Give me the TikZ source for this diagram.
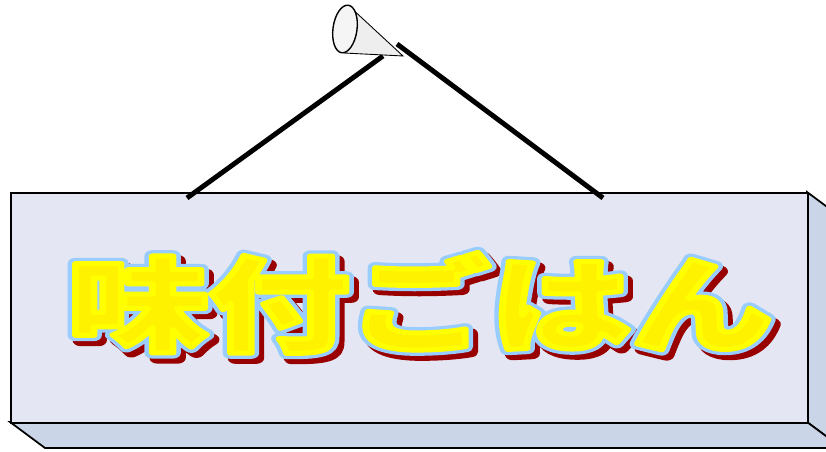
\documentclass[tikz,border=0pt]{standalone}
\usepackage{fontspec}
\newfontfamily\jpfont{Noto Sans CJK JP}
\usetikzlibrary{positioning}
\definecolor{boardfront}{HTML}{E4E7F3}
\definecolor{boardside}{HTML}{CAD5E7}
\definecolor{rimblue}{HTML}{99CCFF}
\definecolor{shadowred}{HTML}{990000}
\definecolor{conegray}{HTML}{EEEEEE}
% fill and stroke the glyphs: width (bp), stroke colour (rgb)
\newcommand\strokeglyphs[2]{\special{pdf:literal direct 2 Tr #1 w 1 j #2 RG}}

\begin{document}
\begin{tikzpicture}[x=0.02cm, y=-0.02cm,
    face/.style={draw=black, line width=1pt, line join=miter},
    cord/.style={line width=2.8pt},
    title/.style={font=\jpfont\bfseries\fontsize{59}{59}\selectfont, inner sep=0pt, xscale=1.36}]

    \useasboundingbox (0,0) rectangle (826,452);
    \clip (0,0) rectangle (826,452);

    % board
    \draw[face, fill=boardside] (807,192) -- (842,218) -- (842,448) -- (807,422) -- cycle;
    \draw[face, fill=boardside] (10,422) -- (45,448) -- (842,448) -- (807,422) -- cycle;
    \node[face, fill=boardfront, minimum width=797*0.02cm, minimum height=230*0.02cm,
          inner sep=0pt, anchor=north west] (board) at (10,192) {};

    % hanging cords and hook
    \coordinate (hookL) at (383,56);
    \coordinate (hookR) at (397,44);
    \coordinate (fixL) at (187,198);
    \coordinate (fixR) at (603,198);
    \draw[cord] (fixL) -- (hookL);
    \coordinate (tip) at (403,56);
    \fill[conegray, draw=black, line width=0.5pt] (349,6) -- (tip) -- (344,53) -- cycle;
    \draw[fill=conegray!60, line width=0.8pt, rotate around={-8:(345,29)}] (345,29) ellipse (12 and 24);
    \draw[cord] (hookR) -- (fixR);

    % title with shadow and outline
    \node[title, text=shadowred] (shade) at (425,308) {\strokeglyphs{6.5}{0.6 0 0}味付ごはん};
    \node[title, text=rimblue] (rim) at (420,303) {\strokeglyphs{6.5}{0.6 0.8 1}味付ごはん};
    \node[title, text=yellow] (name) at (420,303) {\strokeglyphs{2.8}{1 1 0}味付ごはん};
\end{tikzpicture}
\end{document}
